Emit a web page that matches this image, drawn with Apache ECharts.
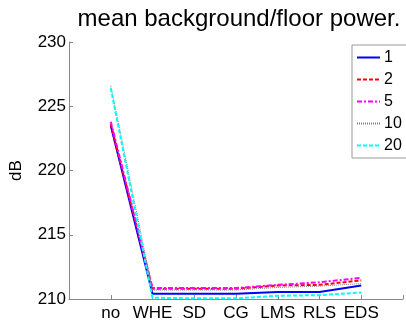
<!DOCTYPE html>
<html><head><meta charset="utf-8">
<script src="https://cdn.jsdelivr.net/npm/echarts@6/dist/echarts.min.js"></script>
<style>html,body{margin:0;padding:0;background:#fff}#c{width:406px;height:322px}</style>
</head><body><div id="c"></div>
<script>
var categories = ['no','WHE','SD','CG','LMS','RLS','EDS'];
var seriesNames = ['1','2','5','10','20'];
var s1  = [223.5, 210.4, 210.4, 210.4, 210.55, 210.55, 211.05];
var s2  = [223.6, 210.8, 210.8, 210.8, 211.05, 211.1, 211.45];
var s5  = [223.8, 210.85, 210.85, 210.85, 211.1, 211.3, 211.65];
var s10 = [226.6, 210.7, 210.7, 210.7, 210.9, 211.0, 211.2];
var s20 = [226.4, 210.1, 210.05, 210.05, 210.25, 210.3, 210.5];
var yTicks = [210, 215, 220, 225, 230];

var values = [s1, s2, s5, s10, s20];
var styles = [
  {color:'#0000ff', type:'solid', width:2},
  {color:'#ff0000', type:[4,2], width:2},
  {color:'#ff00ff', type:[5,2,2,2], width:2},
  {color:'#808080', type:[1,1], width:1},
  {color:'#00ffff', type:[4,2], width:2}
];
function pairs(arr){ return arr.map(function(v,i){ return [i+1, v]; }); }
var chart = echarts.init(document.getElementById('c'), null, {renderer:'canvas'});
var font = 'Liberation Sans, Arial, sans-serif';
chart.setOption({
  animation:false,
  backgroundColor:'#fff',
  title:{text:'mean background/floor power.', left:234, top:2, textAlign:'center',
    textStyle:{fontFamily:font, fontSize:24, fontWeight:'normal', color:'#000'}},
  grid:{left:66, top:42, width:344, height:257},
  legend:{orient:'vertical', left:352, top:45, itemGap:5, itemWidth:23, itemHeight:14,
    backgroundColor:'#fff', borderColor:'#999', borderWidth:1, padding:[4,6,4,4],
    itemStyle:{opacity:0},
    textStyle:{fontFamily:font, fontSize:16, color:'#000', lineHeight:17, padding:[0,0,0,-1]},
    data: seriesNames},
  xAxis:{type:'value', min:0, max:8, interval:1,
    axisLine:{lineStyle:{color:'#888'}},
    axisTick:{inside:true, length:4, lineStyle:{color:'#888'}},
    splitLine:{show:false},
    axisLabel:{fontFamily:font, fontSize:17, color:'#000', margin:6,
      formatter:function(v){ return categories[v-1] || ''; }}},
  yAxis:{type:'value', min:yTicks[0], max:yTicks[yTicks.length-1], interval:5,
    name:'dB', nameLocation:'middle', nameGap:44,
    nameTextStyle:{fontFamily:font, fontSize:17, color:'#000'},
    axisLine:{show:true, lineStyle:{color:'#888'}},
    axisTick:{show:true, inside:true, length:4, lineStyle:{color:'#888'}},
    splitLine:{show:false},
    axisLabel:{fontFamily:font, fontSize:17, color:'#000', margin:3}},
  series: values.map(function(v,i){
    return {name:seriesNames[i], type:'line', data:pairs(v), symbol:'none',
      lineStyle:styles[i], itemStyle:{color:styles[i].color}, z:2+i};
  })
});
</script></body></html>
